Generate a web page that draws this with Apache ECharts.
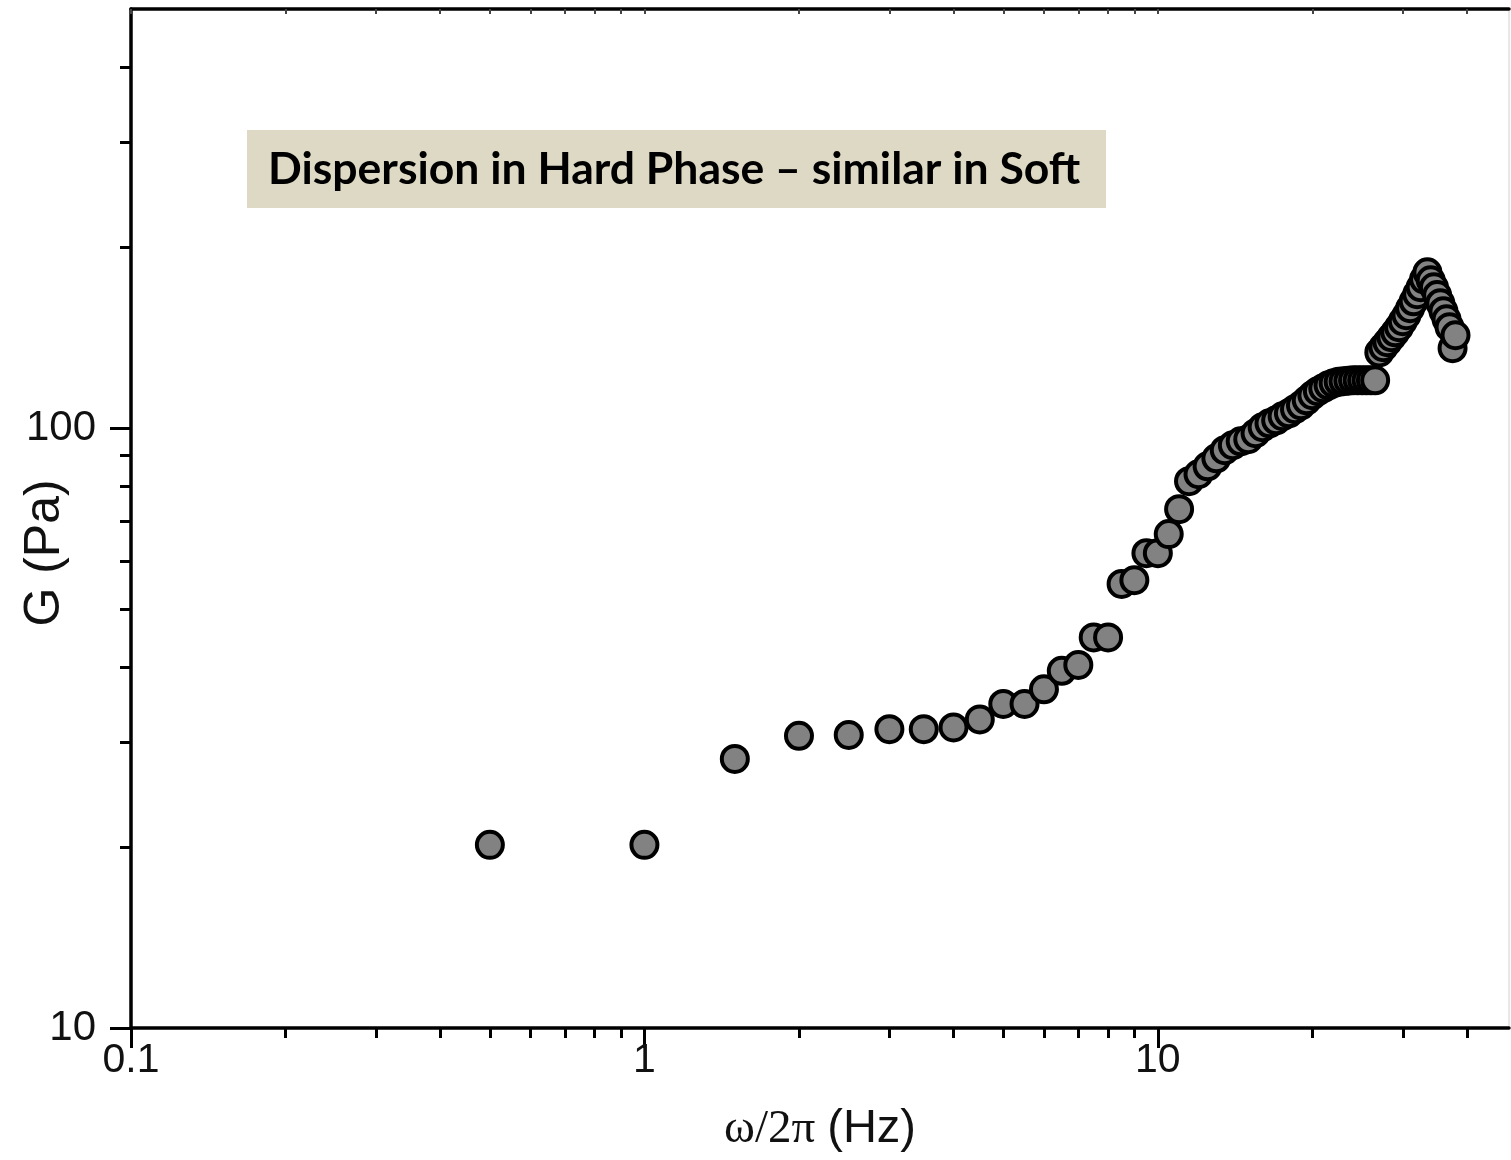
<!DOCTYPE html>
<html><head><meta charset="utf-8">
<script src="https://cdn.jsdelivr.net/npm/echarts@6/dist/echarts.min.js"></script>
<style>html,body{margin:0;padding:0;background:#fff}#c{width:1511px;height:1160px}</style>
</head><body><div id="c"></div>
<script>
// ---- data ----
const freqHz = [0.5,1,1.5,2,2.5,3,3.5,4,4.5,5,5.5,6,6.5,7,7.5,8,8.5,9,9.5,10,
  10.5,11,11.5,12,12.5,13,13.5,14,14.5,15,15.5,16,16.5,17,17.5,18,18.5,19,19.5,20,
  20.5,21,21.5,22,22.5,23,23.5,24,24.5,25,25.5,26,26.5,27,27.5,28,28.5,29,29.5,30,
  30.5,31,31.5,32,32.5,33,33.5,34,34.5,35,35.5,36,36.5,37,37.5,38];
const modulusPa = [20.2,20.2,28.1,30.7,30.8,31.5,31.5,31.7,32.7,34.7,34.7,36.7,39.4,40.3,44.8,44.8,55.0,55.8,61.9,61.9,
  66.6,73.3,81.6,83.8,86.4,89.1,91.9,93.7,95.1,95.9,98.1,100.4,101.9,103.1,104.7,105.9,107.6,109.2,111.3,113.5,
  115.3,116.6,117.9,118.9,119.5,119.8,120.0,120.2,120.2,120.2,120.2,120.2,120.2,133.8,136.5,139.1,141.8,144.5,147.4,150.8,
  154.3,158.5,162.8,167.3,171.8,177.1,182.0,176.5,171.8,166.7,161.6,156.7,151.9,147.4,136.0,142.9];
const xMajorTicks = [0.1, 1, 10];
const xTickLabels = ['0.1', '1', '10'];
const xMinorTicks = [0.2,0.3,0.4,0.5,0.6,0.7,0.8,0.9,2,3,4,5,6,7,8,9,20,30,40];
const yMajorTicks = [10, 100];
const yTickLabels = ['10', '100'];
const yMinorTicks = [20,30,40,50,60,70,80,90,200,300,400];
const xTitleSerif = 'ω/2π';
const xTitleSans = '(Hz)';
const yTitle = 'G (Pa)';
const annotationText = 'Dispersion in Hard Phase – similar in Soft';
const X_MIN = 0.1, X_MAX = 48.3, Y_MIN = 10, Y_MAX = 500;

function labelFor(ticks, labels) {
  return function (v) {
    let best = 0, bd = Infinity;
    ticks.forEach((t, i) => { const d = Math.abs(Math.log10(v) - Math.log10(t)); if (d < bd) { bd = d; best = i; } });
    return bd < 0.01 ? labels[best] : '';
  };
}

const chart = echarts.init(document.getElementById('c'), null, { renderer: 'canvas' });
const SANS = 'Liberation Sans, Arial, sans-serif';
const base = { type: 'log', logBase: 10, splitLine: { show: false }, minorTick: { show: false }, minorSplitLine: { show: false } };

chart.setOption({
  animation: false,
  backgroundColor: '#fff',
  grid: { left: 131, right: 2, top: 9, bottom: 132, containLabel: false },
  xAxis: [
    Object.assign({}, base, {
      min: X_MIN, max: X_MAX, position: 'bottom',
      axisLine: { show: true, lineStyle: { color: '#000', width: 3.5 } },
      axisTick: { show: true, customValues: xMajorTicks, length: 20, lineStyle: { color: '#000', width: 3 } },
      axisLabel: { show: true, customValues: xMajorTicks, formatter: labelFor(xMajorTicks, xTickLabels),
        fontSize: 41, fontFamily: SANS, color: '#111', margin: 12 },
      name: '{s|' + xTitleSerif + '}{g| }{t|' + xTitleSans + '}', nameLocation: 'middle', nameGap: 78,
      nameTextStyle: { rich: {
        s: { fontFamily: 'Liberation Serif, Times New Roman, serif', fontSize: 47, color: '#111' },
        g: { fontFamily: SANS, fontSize: 47, width: 12 },
        t: { fontFamily: SANS, fontSize: 47, color: '#111' } } }
    }),
    Object.assign({}, base, {
      min: X_MIN, max: X_MAX, position: 'bottom',
      axisLine: { show: false },
      axisTick: { show: true, customValues: xMinorTicks, length: 10, lineStyle: { color: '#000', width: 3 } },
      axisLabel: { show: false }
    }),
    Object.assign({}, base, {
      min: X_MIN, max: X_MAX, position: 'top',
      axisLine: { show: true, lineStyle: { color: '#000', width: 3.5 } },
      axisTick: { show: true, inside: true, customValues: xMajorTicks.concat(xMinorTicks), length: 5, lineStyle: { color: '#444', width: 2 } },
      axisLabel: { show: false }
    })
  ],
  yAxis: [
    Object.assign({}, base, {
      min: Y_MIN, max: Y_MAX, position: 'left',
      axisLine: { show: true, lineStyle: { color: '#000', width: 3.5 } },
      axisTick: { show: true, customValues: yMajorTicks, length: 21, lineStyle: { color: '#000', width: 3 } },
      axisLabel: { show: true, customValues: yMajorTicks, formatter: labelFor(yMajorTicks, yTickLabels),
        fontSize: 42, fontFamily: SANS, color: '#111', margin: 35 }
    }),
    Object.assign({}, base, {
      min: Y_MIN, max: Y_MAX, position: 'left',
      axisLine: { show: false },
      axisTick: { show: true, customValues: yMinorTicks, length: 11, lineStyle: { color: '#000', width: 3 } },
      axisLabel: { show: false }
    }),
    Object.assign({}, base, {
      min: Y_MIN, max: Y_MAX, position: 'right',
      axisLine: { show: true, lineStyle: { color: '#e0e0e0', width: 1.5 } },
      axisTick: { show: false }, axisLabel: { show: false }
    })
  ],
  graphic: [
    { type: 'text', x: 45, y: 553, rotation: Math.PI / 2,
      style: { text: yTitle, font: '50px ' + SANS, fill: '#111', textAlign: 'center', textVerticalAlign: 'middle' } },
    { type: 'rect', shape: { x: 247, y: 130, width: 859, height: 78 }, style: { fill: '#DDD9C4' } },
    { type: 'text', x: 268, y: 170,
      style: { text: annotationText, font: 'bold 44.5px Lato, sans-serif', fill: '#000', textVerticalAlign: 'middle' } }
  ],
  series: [{
    type: 'scatter', xAxisIndex: 0, yAxisIndex: 0,
    data: freqHz.map((f, i) => [f, modulusPa[i]]),
    symbol: 'circle', symbolSize: 26,
    itemStyle: { color: '#828282', borderColor: '#000', borderWidth: 4, opacity: 1 },
    emphasis: { disabled: true }
  }]
});
</script></body></html>
